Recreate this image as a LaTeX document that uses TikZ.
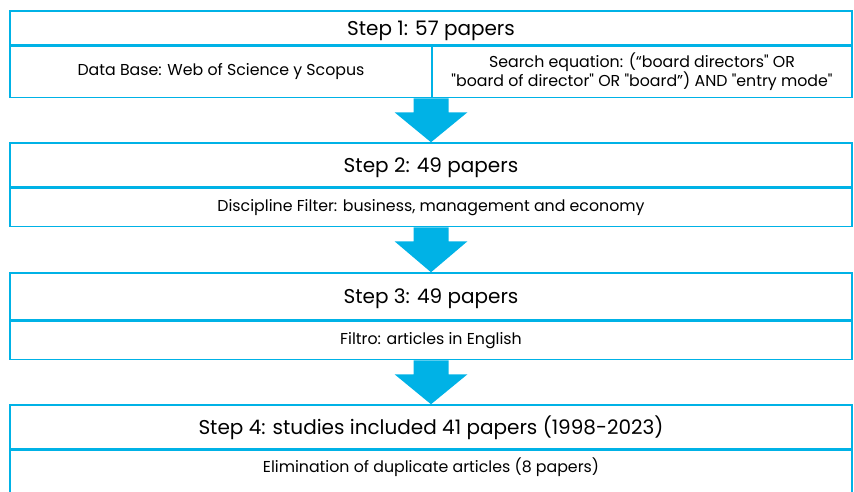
\documentclass[tikz,border=0pt]{standalone}
\usepackage{fontspec}
\setmainfont{Poppins}[Ligatures=TeXOff]
\usetikzlibrary{positioning,calc}
\definecolor{stepblue}{RGB}{0,178,230}

\begin{document}
\begin{tikzpicture}[x=1pt,y=-1pt,
		head/.style={draw=stepblue,line width=1.5pt,minimum width=842pt,inner sep=0pt,text height=16pt,text depth=2pt,font=\fontsize{20}{23}\selectfont},
		body/.style={draw=stepblue,line width=1.5pt,minimum width=842pt,inner sep=0pt,font=\fontsize{15.8}{19}\selectfont},
		flow/.style={fill=stepblue}]

		\clip (0,0) rectangle (854,491);
		\useasboundingbox (0,0) rectangle (854,491);

		% step 1
		\node[head,minimum height=34pt] (s1head) at (431,28) {Step 1: 57 papers};
		\node[body,minimum width=422pt,minimum height=51pt,anchor=north west] (s1base) at (s1head.south west) {Data Base: Web of Science y Scopus};
		\node[body,minimum width=420pt,minimum height=51pt,anchor=north east,align=center] (s1query) at (s1head.south east) {Search equation: (“board directors" OR\\"board of director" OR "board”) AND "entry mode"};
		\coordinate (s1out) at (s1head.south |- s1base.south);

		% step 2
		\node[head,minimum height=44pt] (s2head) at (431,165) {Step 2: 49 papers};
		\node[body,minimum height=38pt,below=0pt of s2head] (s2body) {Discipline Filter: business, management and economy};

		% step 3
		\node[head,minimum height=47pt] (s3head) at (431,296.5) {Step 3: 49 papers};
		\node[body,minimum height=38pt,below=0pt of s3head] (s3body) {Filtro: articles in English};

		% step 4
		\node[head,minimum height=44pt] (s4head) at (431,427) {Step 4: studies included 41 papers (1998-2023)};
		\node[body,inner ysep=10pt,text height=12pt,text depth=34pt,below=0pt of s4head] (s4body) {Elimination of duplicate articles (8 papers)};

		% arrows
		\fill[flow] ($(s1out)+(-17.5,0)$) -- ($(s1out)+(17.5,0)$) -- ($(s1out)+(17.5,14)$) -- ($(s1out)+(36.5,14)$) -- (s2head.north) -- ($(s1out)+(-36.5,14)$) -- ($(s1out)+(-17.5,14)$) -- cycle;
		\fill[flow] ($(s2body.south)+(-17.5,0)$) -- ($(s2body.south)+(17.5,0)$) -- ($(s2body.south)+(17.5,14)$) -- ($(s2body.south)+(36.5,14)$) -- (s3head.north) -- ($(s2body.south)+(-36.5,14)$) -- ($(s2body.south)+(-17.5,14)$) -- cycle;
		\fill[flow] ($(s3body.south)+(-17.5,0)$) -- ($(s3body.south)+(17.5,0)$) -- ($(s3body.south)+(17.5,14)$) -- ($(s3body.south)+(36.5,14)$) -- (s4head.north) -- ($(s3body.south)+(-36.5,14)$) -- ($(s3body.south)+(-17.5,14)$) -- cycle;

\end{tikzpicture}
\end{document}
